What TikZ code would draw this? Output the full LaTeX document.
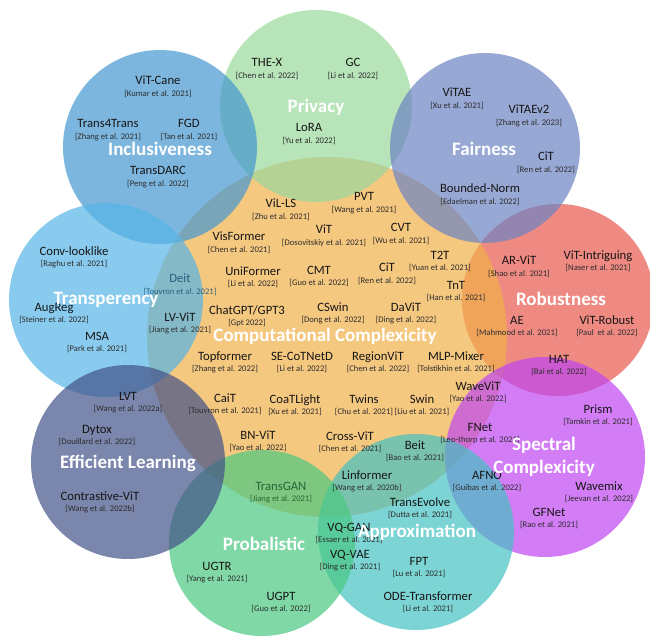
\documentclass[tikz,border=0pt]{standalone}
\usepackage{fontspec}
\setmainfont{Carlito}
\definecolor{cOra}{RGB}{241,176,74}
\definecolor{cPri}{RGB}{152,216,155}
\definecolor{cInc}{RGB}{69,151,208}
\definecolor{cFai}{RGB}{108,131,194}
\definecolor{cTra}{RGB}{85,181,231}
\definecolor{cRob}{RGB}{232,88,78}
\definecolor{cSpe}{RGB}{191,69,241}
\definecolor{cEff}{RGB}{66,82,136}
\definecolor{cPro}{RGB}{74,199,128}
\definecolor{cApp}{RGB}{69,194,194}
\definecolor{txtcol}{RGB}{22,22,22}
\definecolor{citcol}{RGB}{45,45,45}
\definecolor{deitcol}{RGB}{40,95,125}
\definecolor{gancol}{RGB}{42,102,55}
\newcommand{\paperitem}[5][]{%
  \node[paper,#1,anchor=base,yshift=-4pt] (#2) at (#3) {#4};
  \node[citest,#1,anchor=base,yshift=-11.5pt] (#2c) at (#2.base) {#5};}
\begin{document}
\begin{tikzpicture}[x=1pt,y=-1pt,
  circ/.style={fill opacity=0.7},
  paper/.style={inner sep=0pt, text=txtcol, font=\fontsize{12.7}{14}\selectfont},
  citest/.style={inner sep=0pt, text=citcol, font=\fontsize{8.6}{10}\selectfont},
  cat/.style={inner sep=0pt, text=white, align=center, font=\fontsize{19}{22.5}\selectfont\bfseries}]
\useasboundingbox (0,0) rectangle (650,636);
% circles
\fill[cRob, circ] (558,300) circle[radius=96];
\fill[cOra, circ] (327,337) circle[radius=180];
\fill[cPri, circ] (316,106) circle[radius=96];
\fill[cInc, circ] (160,147) circle[radius=97];
\fill[cFai, circ] (485,148) circle[radius=95];
\fill[cTra, circ] (106,300) circle[radius=97];
\fill[cSpe, circ] (545,457) circle[radius=100];
\fill[cApp, circ] (416,532) circle[radius=98];
\fill[cPro, circ] (262,543) circle[radius=93];
\fill[cEff, circ] (128,462) circle[radius=97];
% Inclusiveness
\paperitem{incA}{158,81}{ViT-Cane}{[Kumar et al. 2021]}
\paperitem{incB}{108,124}{Trans4Trans}{[Zhang et al. 2021]}
\paperitem{incC}{189,124}{FGD}{[Tan et al. 2021]}
\paperitem{incD}{158,171}{TransDARC}{[Peng et al. 2022]}
% Privacy
\paperitem{prA}{267,63}{THE-X}{[Chen et al. 2022]}
\paperitem{prB}{353,63}{GC}{[Li et al. 2022]}
\paperitem{prC}{309,128}{LoRA}{[Yu et al. 2022]}
% Fairness
\paperitem{faA}{457,93}{ViTAE}{[Xu et al. 2021]}
\paperitem{faB}{529,110}{ViTAEv2}{[Zhang et al. 2023]}
\paperitem{faC}{546,157}{CiT}{[Ren et al. 2022]}
\paperitem{faD}{480,189}{Bounded-Norm}{[Edaelman et al. 2022]}
% Transparency
\paperitem{trA}{74,251}{Conv-looklike}{[Raghu et al. 2021]}
\paperitem[text=deitcol]{trB}{180,279}{Deit}{[Touvron et al. 2021]}
\paperitem{trC}{54,307}{AugReg}{[Steiner et al. 2022]}
\paperitem{trD}{180,317}{LV-ViT}{[Jiang et al. 2021]}
\paperitem{trE}{97,336}{MSA}{[Park et al. 2021]}
% Computational complexity
\paperitem{ccA}{281,204}{ViL-LS}{[Zhu et al. 2021]}
\paperitem{ccB}{364,197}{PVT}{[Wang et al. 2021]}
\paperitem{ccC}{239,237}{VisFormer}{[Chen et al. 2021]}
\paperitem{ccD}{324,230}{ViT}{[Dosovitskiy et al. 2021]}
\paperitem{ccE}{401,228}{CVT}{[Wu et al. 2021]}
\paperitem{ccF}{440,255}{T2T}{[Yuan et al. 2021]}
\paperitem{ccG}{253,271}{UniFormer}{[Li et al. 2022]}
\paperitem{ccH}{319,270}{CMT}{[Guo et al. 2022]}
\paperitem{ccI}{387,268}{CiT}{[Ren et al. 2022]}
\paperitem{ccJ}{456,285}{TnT}{[Han et al. 2021]}
\paperitem{ccK}{247,310}{ChatGPT/GPT3}{[Gpt 2022]}
\paperitem{ccL}{333,307}{CSwin}{[Dong et al. 2022]}
\paperitem{ccM}{406,307}{DaViT}{[Ding et al. 2022]}
\paperitem{ccN}{225,356}{Topformer}{[Zhang et al. 2022]}
\paperitem{ccO}{302,356}{SE-CoTNetD}{[Li et al. 2022]}
\paperitem{ccP}{378,356}{RegionViT}{[Chen et al. 2022]}
\paperitem{ccQ}{456,356}{MLP-Mixer}{[Tolstikhin et al. 2021]}
\paperitem{ccR}{478,386}{WaveViT}{[Yao et al. 2022]}
\paperitem{ccS}{225,398}{CaiT}{[Touvron et al. 2021]}
\paperitem{ccT}{295,399}{CoaTLight}{[Xu et al. 2021]}
\paperitem{ccU}{364,399}{Twins}{[Chu et al. 2021]}
\paperitem{ccV}{422,399}{Swin}{[Liu et al. 2021]}
\paperitem{ccW}{480,427}{FNet}{[Leo-thorp et al. 2021]}
\paperitem{ccX}{258,435}{BN-ViT}{[Yao et al. 2022]}
\paperitem{ccY}{350,436}{Cross-ViT}{[Chen et al. 2021]}
\paperitem{ccZ}{415,445}{Beit}{[Bao et al. 2021]}
% Robustness
\paperitem{roA}{519,261}{AR-ViT}{[Shao et al. 2021]}
\paperitem{roB}{598,255}{ViT-Intriguing}{[Naser et al. 2021]}
\paperitem{roC}{517,320}{AE}{[Mahmood et al. 2021]}
\paperitem{roD}{607,320}{ViT-Robust}{[Paul\ \ et al. 2022]}
% Spectral
\paperitem{spA}{559,359}{HAT}{[Bai et al. 2022]}
\paperitem{spB}{598,409}{Prism}{[Tamkin et al. 2021]}
\paperitem{spC}{487,475}{AFNO}{[Guibas et al. 2022]}
\paperitem{spD}{599,486}{Wavemix}{[Jeevan et al. 2022]}
\paperitem{spE}{549,512}{GFNet}{[Rao et al. 2021]}
% Efficient learning
\paperitem{efA}{128,396}{LVT}{[Wang et al. 2022a]}
\paperitem{efB}{97,429}{Dytox}{[Douillard et al. 2022]}
\paperitem{efC}{100,496}{Contrastive-ViT}{[Wang et al. 2022b]}
% Probalistic
\paperitem[text=gancol]{pbA}{281,486}{TransGAN}{[Jiang et al. 2021]}
\paperitem{pbB}{217,566}{UGTR}{[Yang et al. 2021]}
\paperitem{pbC}{281,596}{UGPT}{[Guo et al. 2022]}
\paperitem{pbD}{349,527}{VQ-GAN}{[Essaer et al. 2021]}
\paperitem{pbE}{350,554}{VQ-VAE}{[Ding et al. 2021]}
% Approximation
\paperitem{apA}{367,475}{Linformer}{[Wang et al. 2020b]}
\paperitem{apB}{420,502}{TransEvolve}{[Dutta et al. 2021]}
\paperitem{apC}{419,561}{FPT}{[Lu et al. 2021]}
\paperitem{apD}{428,596}{ODE-Transformer}{[Li et al. 2021]}
% category labels
\node[cat] (lInc) at (160,149) {Inclusiveness};
\node[cat] (lPri) at (316,107) {Privacy};
\node[cat] (lFai) at (484,149) {Fairness};
\node[cat] (lTra) at (106,300) {Transperency};
\node[cat] (lCom) at (325,336) {Computational Complexicity};
\node[cat] (lRob) at (561,299) {Robustness};
\node[cat] (lSpe) at (544,457) {Spectral\\Complexicity};
\node[cat] (lEff) at (128,463) {Efficient Learning};
\node[cat] (lPro) at (264,544) {Probalistic};
\node[cat] (lApp) at (417,532) {Approximation};
\end{tikzpicture}
\end{document}
